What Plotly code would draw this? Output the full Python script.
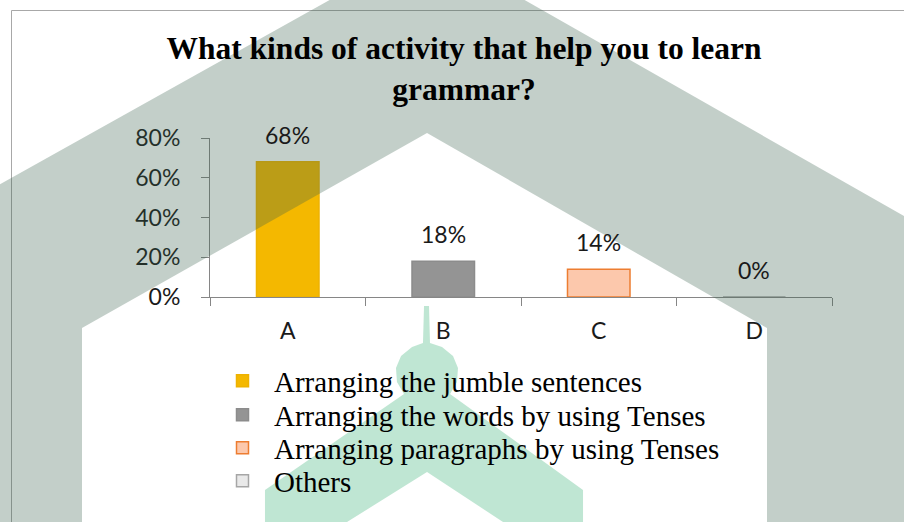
import plotly.graph_objects as go

# Survey results: which activity helps students learn grammar
categories = ["A", "B", "C", "D"]
shares = [0.68, 0.18, 0.14, 0.00]
activities = [
    "Arranging the jumble sentences",
    "Arranging the words by using Tenses",
    "Arranging paragraphs by using Tenses",
    "Others",
]
y_tick_values = [0, 0.2, 0.4, 0.6, 0.8]
y_tick_labels = ["0%", "20%", "40%", "60%", "80%"]

fill_colors = ["#F4B800", "#949494", "#FCC8AC", "#E9E9E9"]
edge_colors = ["#EEB200", "#8C8C8C", "#ED7D31", "#A6A6A6"]

W, H = 904, 522
L, R, T, B = 210, 72, 138, 225
PW, PH = W - L - R, H - T - B


def px(x):
    return (x - L) / PW


def py(y):
    return (H - B - y) / PH


def svg_path(points):
    return "M" + " L".join(f"{px(x):.4f},{py(y):.4f}" for x, y in points) + " Z"


fig = go.Figure()

legend_ids = ["legend", "legend2", "legend3", "legend4"]
for cat, val, name, fc, ec, lg in zip(categories, shares, activities,
                                      fill_colors, edge_colors, legend_ids):
    fig.add_trace(go.Bar(
        x=[cat], y=[val], name=name,
        marker=dict(color=fc, line=dict(color=ec, width=1.5)),
        legend=lg, hoverinfo="skip",
    ))

# value labels above each bar
for cat, val in zip(categories, shares):
    fig.add_annotation(
        x=cat, y=val, text=f"{val:.0%}", showarrow=False,
        yanchor="middle", yshift=27,
        font=dict(family="Lato", size=23, color="#1A1A1A"),
    )

# background emblem drawn as translucent overlays
roof = [(428, -55), (904, 216), (904, 540), (767, 540), (767, 328),
        (427, 133), (82, 328), (82, 540), (-5, 540), (-5, 187)]
dome = [(424, 306), (429, 306), (430, 343), (442, 347), (453, 356),
        (458, 368), (457, 382), (450, 394), (583, 490), (583, 540),
        (503, 540), (503, 522), (427, 472), (347, 522), (347, 540),
        (265, 540), (265, 490), (404, 394), (397, 382), (396, 368),
        (401, 356), (412, 347), (423, 343)]

shapes = [
    dict(type="rect", xref="paper", yref="paper", layer="below",
         x0=px(11.5), x1=px(930), y0=py(10.5), y1=py(560),
         line=dict(color="#A8A8A8", width=1), fillcolor="rgba(0,0,0,0)"),
    dict(type="path", xref="paper", yref="paper", layer="above",
         path=svg_path(roof), fillcolor="rgba(55,95,75,0.30)",
         line=dict(width=0)),
    dict(type="path", xref="paper", yref="paper", layer="above",
         path=svg_path(dome), fillcolor="rgba(0,154,81,0.25)",
         line=dict(width=0)),
]

legend_rows = [381, 415, 448, 481]
legend_layout = {}
for lg, row in zip(legend_ids, legend_rows):
    legend_layout[lg] = dict(
        x=px(211), y=py(row), xanchor="left", yanchor="middle",
        bgcolor="rgba(0,0,0,0)", borderwidth=0,
        font=dict(family="Liberation Serif", size=29, color="#000000"),
        itemwidth=53, itemclick=False, itemdoubleclick=False,
    )

fig.update_layout(
    width=W, height=H,
    margin=dict(l=L, r=R, t=T, b=B, autoexpand=False),
    paper_bgcolor="white", plot_bgcolor="rgba(0,0,0,0)",
    barmode="overlay", bargap=0.598,
    title=dict(
        text="<b>What kinds of activity that help you to learn<br>grammar?</b>",
        x=464 / W, xanchor="center", xref="container",
        y=1 - 59 / H, yanchor="top", yref="container",
        font=dict(family="Liberation Serif", size=31.5, color="#000000"),
    ),
    shapes=shapes,
    showlegend=True,
    **legend_layout,
)

fig.update_xaxes(
    type="category", categoryorder="array", categoryarray=categories,
    range=[-0.5, 3.5], tickson="boundaries", ticks="outside", ticklen=8,
    tickcolor="#868686", showline=True, linecolor="#868686", linewidth=1,
    showgrid=False, zeroline=False, ticklabelstandoff=13,
    tickfont=dict(family="Lato", size=23, color="#1A1A1A"),
)
fig.update_yaxes(
    range=[0, 0.8], tickvals=y_tick_values, ticktext=y_tick_labels,
    ticks="outside", ticklen=8, tickcolor="#868686", showline=True,
    linecolor="#868686", linewidth=1, showgrid=False, zeroline=False,
    ticklabelstandoff=16,
    tickfont=dict(family="Lato", size=23, color="#1A1A1A"),
)

fig.write_html("out.html")
